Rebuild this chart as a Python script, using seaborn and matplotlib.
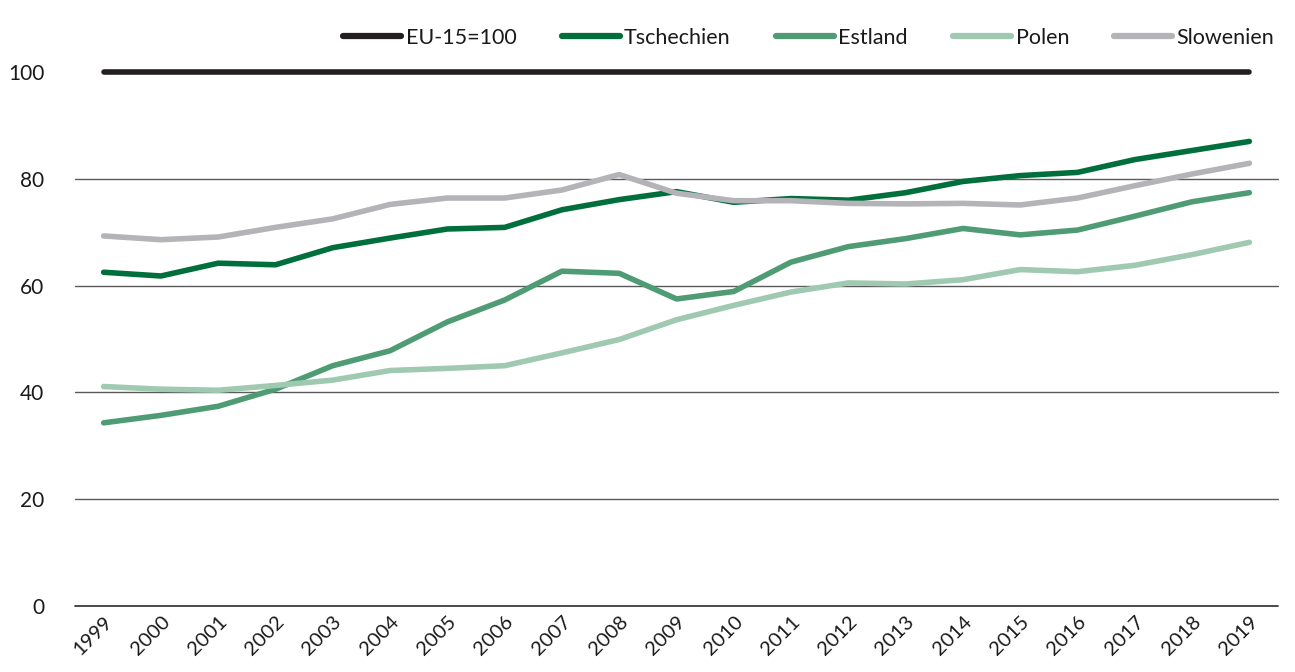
import matplotlib
matplotlib.use("Agg")
import matplotlib.pyplot as plt
import seaborn as sns
import pandas as pd

years = list(range(1999, 2020))
eu15 = [100] * 21
tschechien = [62.5, 61.8, 64.2, 63.9, 67.1, 68.9, 70.6, 70.9, 74.2, 76.1, 77.6,
              75.6, 76.3, 76.0, 77.4, 79.5, 80.6, 81.2, 83.6, 85.3, 87.0]
estland = [34.3, 35.7, 37.4, 40.6, 45.0, 47.8, 53.2, 57.3, 62.7, 62.3, 57.5,
           58.9, 64.4, 67.3, 68.8, 70.7, 69.5, 70.4, 73.0, 75.7, 77.4]
polen = [41.1, 40.6, 40.4, 41.3, 42.3, 44.1, 44.5, 45.0, 47.4, 49.9, 53.6,
         56.3, 58.8, 60.5, 60.3, 61.1, 63.0, 62.6, 63.8, 65.8, 68.1]
slowenien = [69.3, 68.6, 69.1, 70.9, 72.5, 75.2, 76.4, 76.4, 77.9, 80.8, 77.3,
             75.9, 75.9, 75.4, 75.3, 75.4, 75.1, 76.4, 78.7, 80.9, 82.9]

series = {
    "EU-15=100": eu15,
    "Tschechien": tschechien,
    "Estland": estland,
    "Polen": polen,
    "Slowenien": slowenien,
}
colors = {
    "EU-15=100": "#231f20",
    "Tschechien": "#006f3c",
    "Estland": "#4f9c74",
    "Polen": "#9fc9b1",
    "Slowenien": "#b3b3b8",
}

df = pd.DataFrame([
    {"Jahr": y, "Wert": v, "Land": name}
    for name, vals in series.items() for y, v in zip(years, vals)
])

sns.set_theme(style="white")
plt.rcParams["font.family"] = ["Lato", "DejaVu Sans"]

fig = plt.figure(figsize=(12.95, 6.72), dpi=100)
ax = fig.add_axes([75 / 1295, 1 - 606 / 672, (1278 - 75) / 1295, (606 - 72) / 672])

for yv in [20, 40, 60, 80]:
    ax.axhline(yv, color="#5a5a5a", lw=1.0, zorder=0)
ax.axhline(0, color="#3a3a3a", lw=1.3, zorder=0)

sns.lineplot(data=df, x="Jahr", y="Wert", hue="Land", palette=colors,
             hue_order=list(series.keys()), linewidth=4.0, ax=ax,
             legend=False, solid_capstyle="round")
for line in ax.get_lines():
    line.set_clip_on(False)

ax.set_xlim(1998.5, 2019.5)
ax.set_ylim(0, 100)
ax.set_xticks(years)
ax.set_xticklabels([str(y) for y in years], rotation=45, ha="right",
                   rotation_mode="anchor", fontsize=14.5, color="#1a1a1a")
ax.set_yticks([0, 20, 40, 60, 80, 100])
ax.set_yticklabels(["0", "20", "40", "60", "80", "100"], fontsize=15, color="#1a1a1a")
ax.tick_params(axis="y", length=0, pad=22)
ax.tick_params(axis="x", length=0, pad=5)
for s in ax.spines.values():
    s.set_visible(False)
ax.set_xlabel("")
ax.set_ylabel("")

from matplotlib.lines import Line2D
handles = [Line2D([0], [0], color=colors[k], lw=4.5, solid_capstyle="round") for k in series]
leg = fig.legend(handles, list(series.keys()), loc="center right",
                 bbox_to_anchor=(1283 / 1295, 1 - 38 / 672), ncol=5, frameon=False,
                 fontsize=15.5, handlelength=2.7, handletextpad=0.2,
                 columnspacing=2.1, borderaxespad=0)
for t in leg.get_texts():
    t.set_color("#1a1a1a")

fig.savefig("out.png", dpi=100)
